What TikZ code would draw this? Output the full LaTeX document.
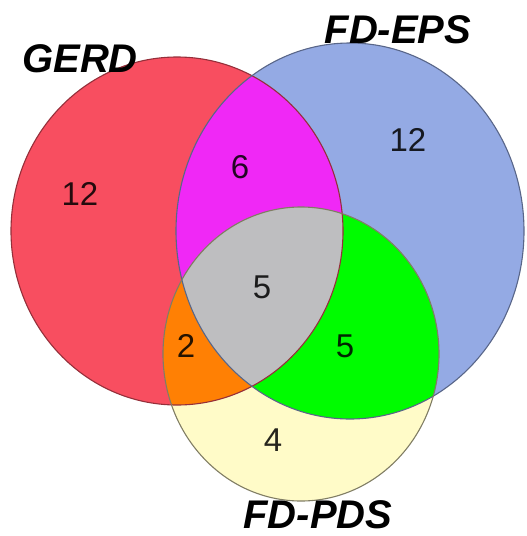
\documentclass[tikz,border=0pt]{standalone}
\usepackage{fontspec}
\setmainfont{Liberation Sans}
\usepackage{xcolor}

\definecolor{gerdred}{RGB}{248,78,96}
\definecolor{epsblue}{RGB}{148,170,228}
\definecolor{pdsyellow}{RGB}{255,251,200}
\definecolor{bothmag}{RGB}{240,40,246}
\definecolor{bothorange}{RGB}{255,128,4}
\definecolor{bothgreen}{RGB}{0,252,0}
\definecolor{allgray}{RGB}{190,190,192}

% Mengen als Ellipsen (Bild ist leicht gestreckt)
\def\gerdset{(177,231) ellipse [x radius=166, y radius=174]}
\def\epsset{(350,231) ellipse [x radius=174, y radius=188]}
\def\pdsset{(301,354) ellipse [x radius=138, y radius=147]}

\tikzset{
  setname/.style={inner sep=0pt, font=\fontsize{40}{40}\selectfont\bfseries\itshape},
  count/.style={inner sep=0pt, text opacity=0.85, font=\fontsize{33}{33}\selectfont},
}

\begin{document}
\begin{tikzpicture}[x=1pt, y=-1pt]
    \useasboundingbox (0,0) rectangle (527,536);

    % Grundflaechen
    \fill[gerdred] \gerdset;
    \fill[epsblue] \epsset;
    \fill[pdsyellow] \pdsset;

    % Schnittmengen
    \begin{scope}
        \clip \gerdset;
        \fill[bothmag] \epsset;
        \fill[bothorange] \pdsset;
    \end{scope}
    \begin{scope}
        \clip \epsset;
        \fill[bothgreen] \pdsset;
    \end{scope}
    \begin{scope}
        \clip \gerdset;
        \clip \epsset;
        \fill[allgray] \pdsset;
    \end{scope}

    % Raender
    \draw[line width=1.1pt, gerdred!60!black] \gerdset;
    \draw[line width=1.1pt, epsblue!60!black] \epsset;
    \draw[line width=1.1pt, pdsyellow!50!black] \pdsset;

    % Namen
    \node[setname] (gerd) at (80,59) {GERD};
    \node[setname] (eps) at (398,30) {FD-EPS};
    \node[setname] (pds) at (318,515) {FD-PDS};

    % Anzahlen
    \node[count] (nG) at (80,194) {12};
    \node[count] (nE) at (408,140) {12};
    \node[count] (nGE) at (240,167) {6};
    \node[count] (nGEP) at (262,287) {5};
    \node[count] (nGP) at (186,346) {2};
    \node[count] (nEP) at (345,346) {5};
    \node[count] (nP) at (273,440) {4};

\end{tikzpicture}
\end{document}
